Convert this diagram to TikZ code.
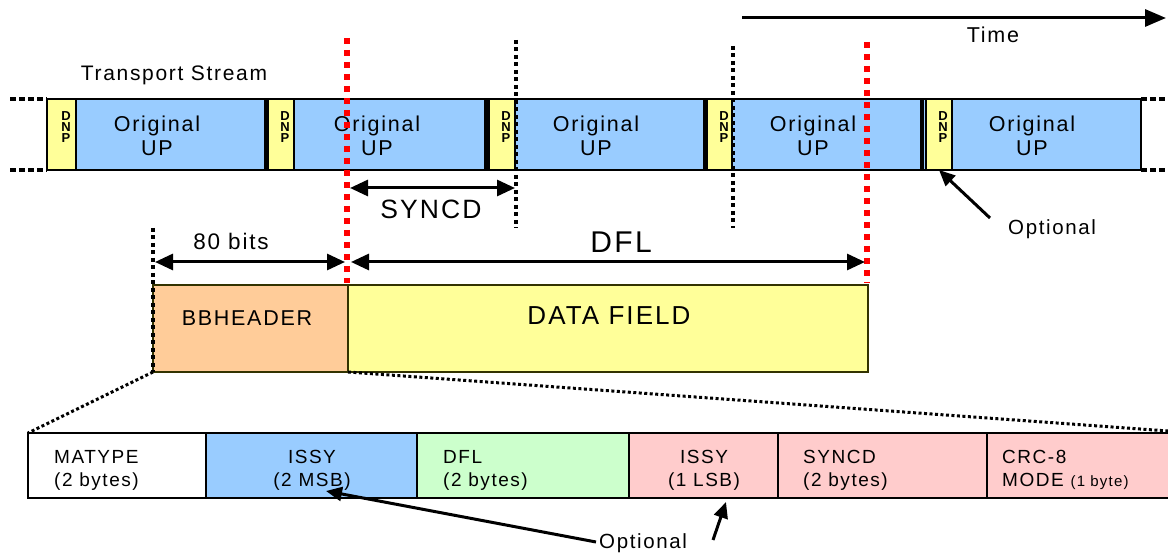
\documentclass[tikz,border=0pt]{standalone}
\usepackage{fontspec}
\setmainfont{Liberation Sans}[LetterSpace=8]
\usetikzlibrary{arrows.meta}
\definecolor{upblue}{HTML}{99CCFF}
\definecolor{dnpyel}{HTML}{FFFF99}
\definecolor{bborange}{HTML}{FFCC99}
\definecolor{dflgreen}{HTML}{CCFFCC}
\definecolor{pinkf}{HTML}{FFCCCC}
\definecolor{boxedge}{HTML}{333300}
\newcommand{\fs}[2]{\fontsize{#1}{#2}\selectfont}
\tikzset{
  segbox/.style={draw=black, line width=2pt, fill=upblue, minimum height=71pt, inner sep=0pt, outer sep=0pt, anchor=north west},
  dnpbox/.style={draw=black, line width=1.5pt, fill=dnpyel, minimum height=71pt, inner sep=0pt, outer sep=0pt, anchor=north west},
  dnptxt/.style={inner sep=0pt, align=center, font=\bfseries\fs{13}{11}},
  uptxt/.style={inner sep=0pt, align=center, anchor=base, font=\fs{21.5}{24}},
  sepline/.style={line width=4pt},
  enddots/.style={line width=4pt, dash pattern=on 6pt off 3pt},
  reddots/.style={draw=red, line width=6.5pt, dash pattern=on 6.5pt off 5.5pt},
  blkdots/.style={line width=4pt, dash pattern=on 4pt off 3.5pt},
  zoomdots/.style={line width=3pt, dash pattern=on 3pt off 2.5pt},
  dimarrow/.style={line width=3pt, {Triangle[length=18pt,width=16pt]}-{Triangle[length=18pt,width=16pt]}},
  ptarrow/.style={line width=3pt, -{Triangle[length=16pt,width=14pt]}},
  bbbox/.style={draw=boxedge, line width=2pt, minimum height=87pt, inner sep=0pt, outer sep=0pt, anchor=north west},
  fieldbox/.style={draw=black, line width=2.5pt, minimum height=65pt, inner sep=0pt, outer sep=0pt, anchor=north west},
  fieldtxt/.style={inner sep=0pt, font=\fs{19}{23}},
  lbl/.style={inner sep=0pt, anchor=base}
}
\begin{document}
\begin{tikzpicture}[x=1pt,y=-1pt]
\useasboundingbox (0,0) rectangle (1168,553);
\clip (0,0) rectangle (1168,553);

% ---------- Time arrow ----------
\coordinate (t0) at (742,18);
\coordinate (t1) at (1166,18);
\draw[line width=3pt, -{Triangle[length=21pt,width=17pt]}] (t0) -- (t1);
\node[lbl, font=\fs{21.5}{24}] (time) at (993,43) {Time};

\node[lbl, font=\fs{21}{24}] (ts) at (174,81) {Transport Stream};

% ---------- Transport stream segments ----------
\node[segbox, minimum width=219pt] (s1) at (47,99) {};
\node[segbox, minimum width=220pt] (s2) at (266,99) {};
\node[segbox, minimum width=219pt] (s3) at (486,99) {};
\node[segbox, minimum width=217pt] (s4) at (705,99) {};
\node[segbox, minimum width=219pt] (s5) at (922,99) {};

\node[dnpbox, minimum width=29pt] (d1) at (47,99) {};
\node[dnpbox, minimum width=26pt] (d2) at (268,99) {};
\node[dnpbox, minimum width=26pt] (d3) at (489,99) {};
\node[dnpbox, minimum width=25pt] (d4) at (707,99) {};
\node[dnpbox, minimum width=26pt] (d5) at (926,99) {};

\draw[sepline] (s2.north west) -- (s2.south west);
\draw[sepline] (s3.north west) -- (s3.south west);
\draw[sepline] (s4.north west) -- (s4.south west);
\draw[sepline] (s5.north west) -- (s5.south west);

\node[dnptxt] (n1) at (66,127) {D\\N\\P};
\node[dnptxt] (n2) at (285,127) {D\\N\\P};
\node[dnptxt] (n3) at (506,127) {D\\N\\P};
\node[dnptxt] (n4) at (724,127) {D\\N\\P};
\node[dnptxt] (n5) at (943,127) {D\\N\\P};

\node[uptxt] (u1) at (157,156) {Original\\UP};
\node[uptxt] (u2) at (377,156) {Original\\UP};
\node[uptxt] (u3) at (596,156) {Original\\UP};
\node[uptxt] (u4) at (813,156) {Original\\UP};
\node[uptxt] (u5) at (1032,156) {Original\\UP};

\coordinate (el1) at (10,99);
\coordinate (el2) at (10,170);
\coordinate (er1) at (1168,99);
\coordinate (er2) at (1168,170);
\draw[enddots] (el1) -- (s1.north west);
\draw[enddots] (el2) -- (s1.south west);
\draw[enddots] (s5.north east) -- (er1);
\draw[enddots] (s5.south east) -- (er2);

% ---------- BBHEADER / DATA FIELD ----------
\node[bbbox, fill=bborange, minimum width=195pt] (bbh) at (153,285) {};
\node[bbbox, fill=dnpyel, minimum width=520pt] (df) at (348,285) {};
\node[lbl, font=\fs{21.5}{24}] (bbt) at (247,326) {BBHEADER};
\node[lbl, font=\fs{26}{30}] (dft) at (609,325) {DATA FIELD};

% ---------- dotted markers ----------
\coordinate (k1t) at (516,40);  \coordinate (k1b) at (516,228);
\coordinate (k2t) at (733,46);  \coordinate (k2b) at (733,228);
\coordinate (k3t) at (153,228);
\draw[blkdots] (k1t) -- (k1b);
\draw[blkdots] (k2t) -- (k2b);
\draw[blkdots] (k3t) -- (bbh.south west);

\coordinate (r1t) at (347,38);  \coordinate (r1b) at (347,283);
\coordinate (r2t) at (867,42);  \coordinate (r2b) at (867,283);
\draw[reddots] (r1t) -- (r1b);
\draw[reddots] (r2t) -- (r2b);

% ---------- dimension arrows ----------
\coordinate (sy0) at (350,188); \coordinate (sy1) at (515,188);
\draw[dimarrow] (sy0) -- (sy1);
\node[lbl, font=\fs{26.5}{30}] (syt) at (431,219) {SYNCD};

\coordinate (b0) at (155,262); \coordinate (b1) at (345,262);
\draw[dimarrow] (b0) -- (b1);
\node[lbl, font=\fs{22.5}{26}] (bits) at (231,250) {80 bits};

\coordinate (f0) at (351,262); \coordinate (f1) at (865,262);
\draw[dimarrow] (f0) -- (f1);
\node[lbl, font=\fs{30}{34}] (dfl) at (621,253) {DFL};

% ---------- upper Optional ----------
\node[lbl, anchor=base west, font=\fs{20.5}{24}] (opt1) at (1008,235) {Optional};
\coordinate (o1a) at (990,218);
\draw[ptarrow] (o1a) -- (d5.south);

% ---------- BBHEADER fields ----------
\node[fieldbox, fill=white,     minimum width=178pt] (m1) at (28,433) {};
\node[fieldbox, fill=upblue,    minimum width=211pt] (m2) at (206,433) {};
\node[fieldbox, fill=dflgreen,  minimum width=212pt] (m3) at (417,433) {};
\node[fieldbox, fill=pinkf,     minimum width=149pt] (m4) at (629,433) {};
\node[fieldbox, fill=pinkf,     minimum width=209pt] (m5) at (778,433) {};
\node[fieldbox, fill=pinkf,     minimum width=210pt] (m6) at (987,433) {};

\node[fieldtxt, align=left,   anchor=base west] (mt1) at (54,486)  {MATYPE\\(2 bytes)};
\node[fieldtxt, align=center, anchor=base]      (mt2) at (312,486) {ISSY\\(2 MSB)};
\node[fieldtxt, align=left,   anchor=base west] (mt3) at (443,486) {DFL\\(2 bytes)};
\node[fieldtxt, align=center, anchor=base]      (mt4) at (704,486) {ISSY\\(1 LSB)};
\node[fieldtxt, align=left,   anchor=base west] (mt5) at (803,486) {SYNCD\\(2 bytes)};
\node[fieldtxt, align=left,   anchor=base west] (mt6) at (1002,486) {CRC-8\\MODE {\fs{15}{23}(1 byte)}};

% ---------- zoom lines ----------
\draw[zoomdots] (bbh.south west) -- (m1.north west);
\coordinate (zr) at (1168,431);
\draw[zoomdots] (bbh.south east) -- (zr);

% ---------- lower Optional ----------
\node[lbl, anchor=base west, font=\fs{20.5}{24}] (opt2) at (599,548) {Optional};
\coordinate (o2a) at (596,542);
\coordinate (o2t) at (326,491);
\draw[ptarrow] (o2a) -- (o2t);
\coordinate (o3a) at (713,540);
\coordinate (o3t) at (726,502);
\draw[ptarrow] (o3a) -- (o3t);
\end{tikzpicture}
\end{document}
